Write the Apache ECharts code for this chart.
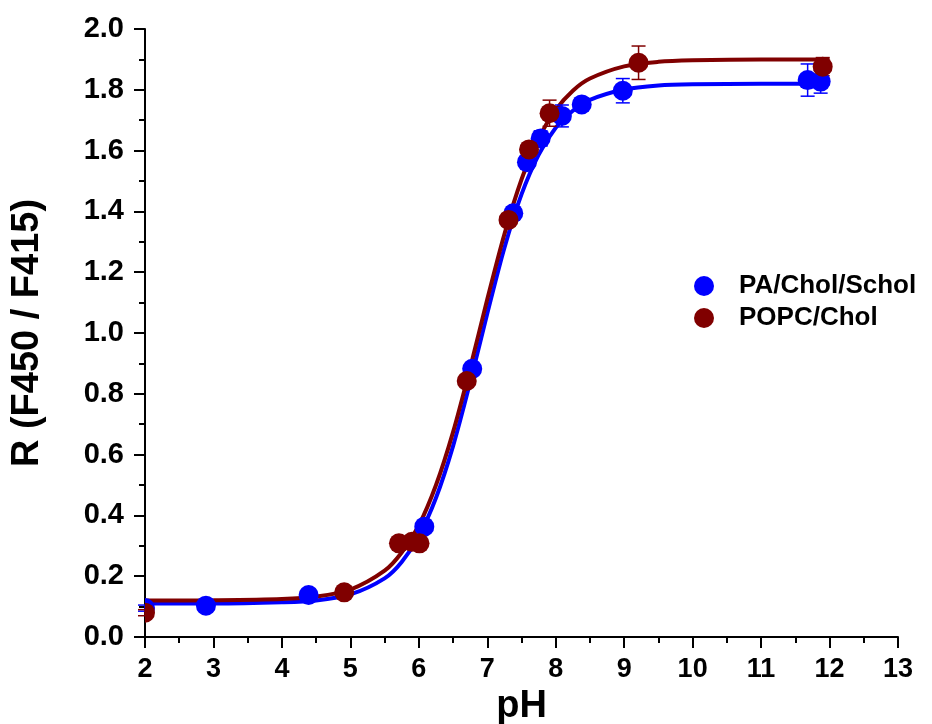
<!DOCTYPE html>
<html>
<head>
<meta charset="utf-8">
<script src="https://cdn.jsdelivr.net/npm/echarts@6/dist/echarts.min.js"></script>
<style>
  html, body { margin: 0; padding: 0; background: #fff; }
  #main { width: 932px; height: 724px; }
</style>
</head>
<body>
<div id="main"></div>
<script>
// measured points (pH, R) and error half-widths
var blueX   = [2.0, 2.89, 4.39, 6.08, 6.78, 7.38, 7.58, 7.78, 8.09, 8.38, 8.98, 11.68, 11.87];
var blueY   = [0.095, 0.103, 0.138, 0.363, 0.882, 1.394, 1.562, 1.640, 1.714, 1.752, 1.797, 1.832, 1.827];
var blueErr = [0.01, 0.01, 0.01, 0.01, 0.015, 0.02, 0.02, 0.025, 0.036, 0.02, 0.04, 0.053, 0.038];

var brownX   = [2.0, 4.91, 5.71, 5.90, 6.01, 6.70, 7.31, 7.61, 7.91, 9.21, 11.90];
var brownY   = [0.080, 0.147, 0.308, 0.313, 0.308, 0.842, 1.372, 1.604, 1.723, 1.889, 1.876];
var brownErr = [0.01, 0.01, 0.01, 0.01, 0.01, 0.015, 0.02, 0.02, 0.043, 0.055, 0.03];

// fitted curves
var fitX     = [2, 3, 4, 4.5, 5, 5.5, 5.75, 6, 6.25, 6.5, 6.75, 7, 7.25, 7.5, 7.75, 8, 8.25, 8.5, 9, 9.5, 10, 11, 12];
var blueFit  = [0.110, 0.110, 0.114, 0.120, 0.140, 0.193, 0.247, 0.332, 0.457, 0.628, 0.838, 1.064, 1.280, 1.456, 1.586, 1.675, 1.731, 1.767, 1.801, 1.814, 1.818, 1.820, 1.820];
var brownFit = [0.120, 0.121, 0.125, 0.133, 0.156, 0.218, 0.278, 0.367, 0.499, 0.674, 0.885, 1.111, 1.325, 1.505, 1.640, 1.734, 1.797, 1.837, 1.877, 1.892, 1.897, 1.900, 1.900];

var BLUE = '#0000ff', BROWN = '#800000';
var FONT = '"Liberation Sans", Arial, sans-serif';

function pairs(xs, ys) {
    var out = [];
    for (var i = 0; i < xs.length; i++) out.push([xs[i], ys[i]]);
    return out;
}
function errData(xs, ys, es) {
    var out = [];
    for (var i = 0; i < xs.length; i++) out.push([xs[i], ys[i] - es[i], ys[i] + es[i]]);
    return out;
}
// error bar with caps
function renderErr(color) {
    return function (params, api) {
        var lo = api.coord([api.value(0), api.value(1)]);
        var hi = api.coord([api.value(0), api.value(2)]);
        var w = 7;
        var st = { stroke: color, lineWidth: 1.5 };
        return {
            type: 'group',
            children: [
                { type: 'line', shape: { x1: lo[0], y1: lo[1], x2: hi[0], y2: hi[1] }, style: st },
                { type: 'line', shape: { x1: lo[0] - w, y1: lo[1], x2: lo[0] + w, y2: lo[1] }, style: st },
                { type: 'line', shape: { x1: hi[0] - w, y1: hi[1], x2: hi[0] + w, y2: hi[1] }, style: st }
            ]
        };
    };
}
// filled dot, clipped to the plot area (dot at pH 2 is cut by the axis)
function renderDot(color) {
    return function (params, api) {
        var p = api.coord([api.value(0), api.value(1)]);
        var cs = params.coordSys;
        return {
            type: 'circle',
            shape: { cx: p[0], cy: p[1], r: 10 },
            style: { fill: color },
            clipPath: { type: 'rect', shape: { x: cs.x, y: cs.y - 20, width: cs.width, height: cs.height + 20 } }
        };
    };
}

var chart = echarts.init(document.getElementById('main'));
var axisCommon = {
    axisLine: { lineStyle: { color: '#000', width: 2 } },
    axisTick: { length: 11, lineStyle: { color: '#000', width: 2 } },
    minorTick: { show: true, splitNumber: 2, length: 6, lineStyle: { color: '#000', width: 2 } },
    splitLine: { show: false },
    nameTextStyle: { fontFamily: FONT, fontWeight: 'bold', fontSize: 38, color: '#000' }
};

chart.setOption({
    backgroundColor: '#fff',
    animation: false,
    grid: { left: 145, right: 34, top: 29, bottom: 87, outerBoundsMode: 'none', containLabel: false },
    legend: {
        left: 689, top: 268, orient: 'vertical',
        itemWidth: 20, itemHeight: 20, itemGap: 6,
        icon: 'circle',
        data: ['PA/Chol/Schol', 'POPC/Chol'],
        textStyle: { fontFamily: FONT, fontWeight: 'bold', fontSize: 26, color: '#000', lineHeight: 26, padding: [0, 0, 0, 20] }
    },
    xAxis: Object.assign({
        type: 'value', min: 2, max: 13, interval: 1,
        name: 'pH', nameLocation: 'middle', nameGap: 45,
        axisLabel: { margin: 19, fontFamily: FONT, fontWeight: 'bold', fontSize: 27, color: '#000' }
    }, axisCommon),
    yAxis: Object.assign({
        type: 'value', min: 0, max: 2, interval: 0.2,
        name: 'R (F450 / F415)', nameLocation: 'middle', nameGap: 98,
        axisLabel: { margin: 21, fontFamily: FONT, fontWeight: 'bold', fontSize: 29, color: '#000',
            formatter: function (v) { return v.toFixed(1); } }
    }, axisCommon),
    series: [
        { name: 'blueFit', type: 'line', data: pairs(fitX, blueFit), smooth: 0.3, showSymbol: false,
          lineStyle: { color: BLUE, width: 4 }, z: 2 },
        { name: 'brownFit', type: 'line', data: pairs(fitX, brownFit), smooth: 0.3, showSymbol: false,
          lineStyle: { color: BROWN, width: 4 }, z: 3 },
        { name: 'blueErr', type: 'custom', renderItem: renderErr(BLUE), data: errData(blueX, blueY, blueErr), z: 4 },
        { name: 'brownErr', type: 'custom', renderItem: renderErr(BROWN), data: errData(brownX, brownY, brownErr), z: 4 },
        { name: 'PA/Chol/Schol', type: 'custom', renderItem: renderDot(BLUE), data: pairs(blueX, blueY),
          itemStyle: { color: BLUE }, z: 5 },
        { name: 'POPC/Chol', type: 'custom', renderItem: renderDot(BROWN), data: pairs(brownX, brownY),
          itemStyle: { color: BROWN }, z: 6 }
    ]
});
</script>
</body>
</html>
